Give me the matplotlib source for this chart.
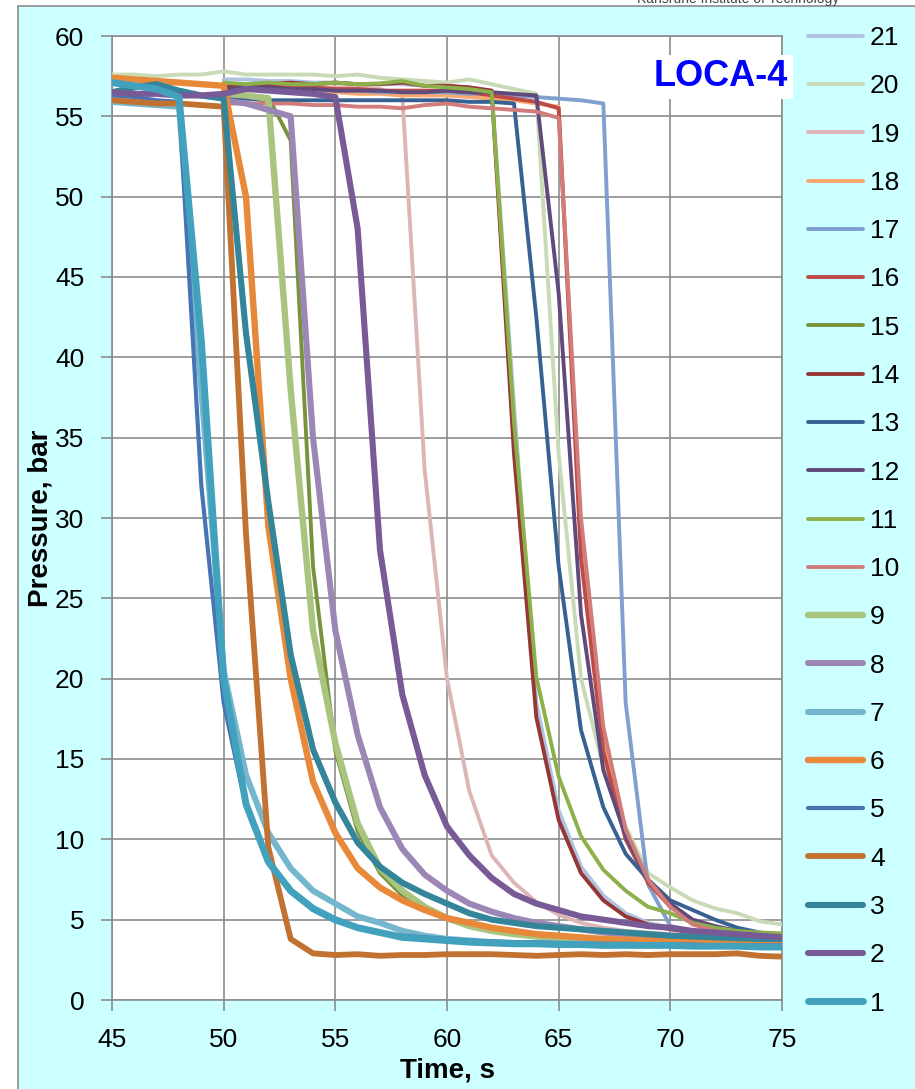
import numpy as np
import matplotlib.pyplot as plt
from matplotlib.patches import Rectangle

plt.rcParams['font.family'] = ['Liberation Sans', 'DejaVu Sans']

nan = np.nan
time = list(range(45, 76))

# pressure traces, bar (one value per second, 45..75 s)
p1 = [57.1, 56.9, 56.7, 56.2, 41.0, 20.0, 12.2, 8.6, 6.8, 5.7, 5.0, 4.5, 4.2, 3.9, 3.8, 3.7,
      3.6, 3.55, 3.5, 3.5, 3.45, 3.45, 3.4, 3.4, 3.4, 3.4, 3.35, 3.35, 3.35, 3.3, 3.3]
p2 = [56.5, 56.4, 56.4, 56.3, 56.3, 56.4, 56.7, 56.6, 56.5, 56.4, 56.2, 48.0, 28.0, 19.0, 14.0, 10.8,
      9.0, 7.6, 6.6, 6.0, 5.6, 5.2, 5.0, 4.8, 4.6, 4.5, 4.3, 4.2, 4.1, 4.0, 3.9]
p3 = [56.5, 56.8, 57.0, 56.6, 56.3, 56.1, 41.5, 31.0, 21.5, 15.6, 12.3, 9.8, 8.3, 7.3, 6.6, 6.0,
      5.4, 5.0, 4.8, 4.6, 4.5, 4.4, 4.3, 4.2, 4.1, 4.0, 3.95, 3.9, 3.85, 3.8, 3.8]
p4 = [56.0, 55.9, 55.8, 55.8, 55.7, 55.6, 29.0, 9.5, 3.8, 2.9, 2.8, 2.85, 2.75, 2.8, 2.8, 2.85,
      2.85, 2.85, 2.8, 2.75, 2.8, 2.85, 2.8, 2.85, 2.8, 2.85, 2.85, 2.85, 2.9, 2.75, 2.7]
p5 = [56.3, 56.2, 56.0, 55.9, 32.0, 18.5, 12.0, 8.5, 6.7, 5.6, 4.9, 4.5, 4.2, 4.0, 3.9, 3.8,
      3.7, 3.65, 3.6, 3.6, 3.55, 3.5, 3.5, 3.5, 3.45, 3.45, 3.45, 3.4, 3.4, 3.4, 3.4]
p6 = [57.4, 57.3, 57.2, 57.1, 57.0, 56.9, 50.0, 29.5, 20.0, 13.6, 10.4, 8.2, 7.0, 6.2, 5.6, 5.1,
      4.8, 4.5, 4.3, 4.1, 4.0, 3.9, 3.8, 3.75, 3.7, 3.65, 3.6, 3.55, 3.5, 3.5, 3.45]
p7 = [55.9, 55.8, 55.7, 55.6, 38.0, 20.5, 14.0, 10.4, 8.2, 6.8, 6.0, 5.2, 4.8, 4.3, 4.0, 3.8,
      3.7, 3.6, 3.55, 3.5, 3.5, 3.5, 3.45, 3.45, 3.45, 3.4, 3.4, 3.4, 3.4, 3.35, 3.35]
p8 = [nan] * 5 + [56.0, 55.8, 55.4, 55.0, 35.0, 23.0, 16.5, 12.0, 9.4, 7.8, 6.8, 6.0, 5.5, 5.1,
                  4.8, 4.6, 4.4, 4.2, 4.1, 4.0, 3.9, 3.85, 3.8, 3.75, 3.7, 3.65]
p9 = [nan] * 5 + [56.4, 56.3, 56.1, 38.0, 23.0, 16.0, 11.0, 8.2, 6.8, 5.8, 5.1, 4.6, 4.3, 4.1,
                  3.95, 3.85, 3.8, 3.75, 3.7, 3.65, 3.6, 3.6, 3.55, 3.55, 3.5, 3.5]
p10 = [nan] * 5 + [55.8, 55.8, 55.8, 55.8, 55.7, 55.7, 55.6, 55.6, 55.5, 55.7, 55.8, 55.6, 55.5,
                   55.4, 55.3, 54.9, 30.0, 17.0, 10.6, 7.5, 5.8, 4.7, 4.3, 4.1, 4.0, 3.9]
p11 = [nan] * 5 + [57.1, 57.0, 57.1, 57.0, 57.0, 57.1, 57.0, 57.05, 57.2, 56.9, 56.8, 56.7, 56.5,
                   36.0, 20.1, 13.9, 10.2, 8.1, 6.8, 5.8, 5.4, 4.8, 4.5, 4.3, 4.2, 4.15]
p12 = [nan] * 5 + [56.7, 56.8, 56.8, 56.7, 56.7, 56.6, 56.6, 56.6, 56.5, 56.5, 56.6, 56.5, 56.5,
                   56.4, 56.3, 44.0, 24.0, 14.3, 10.2, 7.5, 6.0, 5.0, 4.6, 4.3, 4.1, 4.0]
p13 = [nan] * 5 + [56.1, 56.1, 56.0, 56.0, 56.0, 56.0, 56.0, 56.0, 56.0, 56.0, 56.0, 55.9, 55.9,
                   55.8, 42.5, 27.0, 16.8, 12.0, 9.1, 7.5, 6.2, 5.6, 5.0, 4.5, 4.2, 4.0]
p14 = [nan] * 5 + [56.8, 56.9, 57.0, 57.1, 57.0, 57.1, 57.0, 57.0, 57.1, 56.9, 56.9, 56.8, 56.6,
                   34.0, 17.6, 11.2, 7.9, 6.2, 5.2, 4.7, 4.4, 4.2, 4.1, 4.0, 3.9, 3.9]
p15 = [nan] * 5 + [56.4, 56.3, 56.2, 53.5, 27.0, 15.5, 10.5, 7.9, 6.5, 5.6, 5.0, 4.6, 4.3, 4.1,
                   3.95, 3.85, 3.8, 3.75, 3.7, 3.65, 3.6, 3.6, 3.55, 3.55, 3.5, 3.5]
p16 = [nan] * 5 + [56.8, 56.9, 56.9, 56.8, 56.8, 56.7, 56.7, 56.6, 56.6, 56.6, 56.6, 56.5, 56.3,
                   56.1, 55.9, 55.5, 27.5, 15.5, 10.0, 7.3, 5.8, 4.9, 4.5, 4.2, 4.0, 3.9]
p17 = [nan] * 5 + [56.9, 56.8, 56.8, 56.7, 56.7, 56.6, 56.6, 56.5, 56.5, 56.5, 56.5, 56.4, 56.4,
                   56.3, 56.2, 56.1, 56.0, 55.8, 18.5, 7.2, 4.6, 4.3, 4.1, 4.0, 3.9, 3.9]
p18 = [nan] * 5 + [56.7, 56.7, 56.6, 56.6, 56.5, 56.5, 56.4, 56.4, 56.3, 56.3, 56.3, 56.2, 56.1,
                   56.0, 55.8, 55.6, 28.5, 16.2, 10.3, 7.4, 5.8, 4.8, 4.4, 4.2, 4.0, 3.9]
p19 = [nan] * 5 + [57.0, 57.0, 56.9, 56.9, 56.8, 56.8, 56.8, 56.7, 56.3, 33.0, 20.0, 13.0, 9.0,
                   7.3, 6.1, 5.3, 4.8, 4.5, 4.3, 4.2, 4.1, 4.0, 3.9, 3.9, 3.8, 3.8]
p20 = [57.6, 57.6, 57.5, 57.6, 57.6, 57.8, 57.6, 57.6, 57.6, 57.6, 57.5, 57.6, 57.4, 57.3, 57.2, 57.1,
       57.3, 57.0, 56.7, 56.4, 34.0, 20.0, 14.5, 10.8, 7.9, 7.0, 6.2, 5.7, 5.4, 4.9, 4.7]
p21 = [nan] * 5 + [57.3, 57.3, 57.2, 57.2, 57.1, 57.1, 57.0, 57.0, 57.0, 56.9, 56.9, 56.8, 56.6,
                   37.0, 18.5, 11.8, 8.3, 6.5, 5.4, 4.8, 4.5, 4.3, 4.2, 4.1, 4.0, 3.95]

series = [p1, p2, p3, p4, p5, p6, p7, p8, p9, p10, p11, p12, p13, p14, p15, p16, p17, p18, p19, p20, p21]
names = [str(i) for i in range(1, 22)]
colors = ['#42A1BD', '#785A96', '#348599', '#C27230', '#4674B4', '#E8893A', '#75B6CF',
          '#9B86B5', '#A9C47F', '#D17C7A', '#8DB14A', '#604A7B', '#376193', '#953735',
          '#77933C', '#BE4B48', '#7F9FCF', '#F9A870', '#DDB5B4', '#C9DAB6', '#AFC2DF']
widths = [5.0, 4.4, 4.4, 4.2, 3.0, 4.6, 4.4, 4.4, 4.6] + [2.8] * 12

fig = plt.figure(figsize=(9.15, 10.89), dpi=100, facecolor='white')
fig.patches.append(Rectangle((18 / 915, -0.01), 1.0, 1 - 6 / 1089 + 0.01, transform=fig.transFigure,
                             facecolor='#CCFFFF', edgecolor='#8C8C8C', linewidth=1.2, zorder=-5))
fig.text(637 / 915, 1 - 3 / 1089, 'Karlsruhe Institute of Technology', fontsize=10,
         color='#444444', va='baseline', ha='left')

ax = fig.add_axes([112 / 915, 1 - 1000 / 1089, 670 / 915, 964 / 1089])
ax.set_zorder(2)
ax.set_facecolor('white')

lines = {}
# series 21 drawn first, series 1 ends up on top
for i in range(20, -1, -1):
    ln, = ax.plot(time, series[i], color=colors[i], lw=widths[i], label=names[i],
                  solid_joinstyle='round', solid_capstyle='round', zorder=3)
    lines[i] = ln

ax.set_xlim(45, 75)
ax.set_ylim(0, 60)
ax.set_xticks(range(45, 76, 5))
ax.set_yticks(range(0, 61, 5))
ax.grid(True, color='#8C8C8C', linewidth=1.2, zorder=1)
ax.set_axisbelow(True)
for sp in ax.spines.values():
    sp.set_color('#8C8C8C')
    sp.set_linewidth(1.2)
ax.tick_params(axis='both', length=8, width=1.2, color='#8C8C8C', labelsize=19, pad=12)

ax.set_xlabel('Time, s', fontsize=20, fontweight='bold', labelpad=4)
ax.set_ylabel('Pressure, bar', fontsize=20, fontweight='bold', labelpad=1)

fig.text(721 / 915, 1 - 77 / 1089, 'LOCA-4', fontsize=26, fontweight='bold', color='#0000FF',
         ha='center', va='center', zorder=10,
         bbox=dict(boxstyle='square,pad=0.12', facecolor='white', edgecolor='none'))

handles = [lines[i] for i in range(20, -1, -1)]
leg = fig.legend(handles=handles, labels=[names[i] for i in range(20, -1, -1)],
                 loc='upper left', bbox_to_anchor=(808 / 915, 1 - 26 / 1089),
                 frameon=False, fontsize=19, handlelength=2.1, handletextpad=0.25,
                 labelspacing=0.92, borderpad=0, borderaxespad=0)

fig.savefig('out.png', dpi=100, facecolor=fig.get_facecolor())
